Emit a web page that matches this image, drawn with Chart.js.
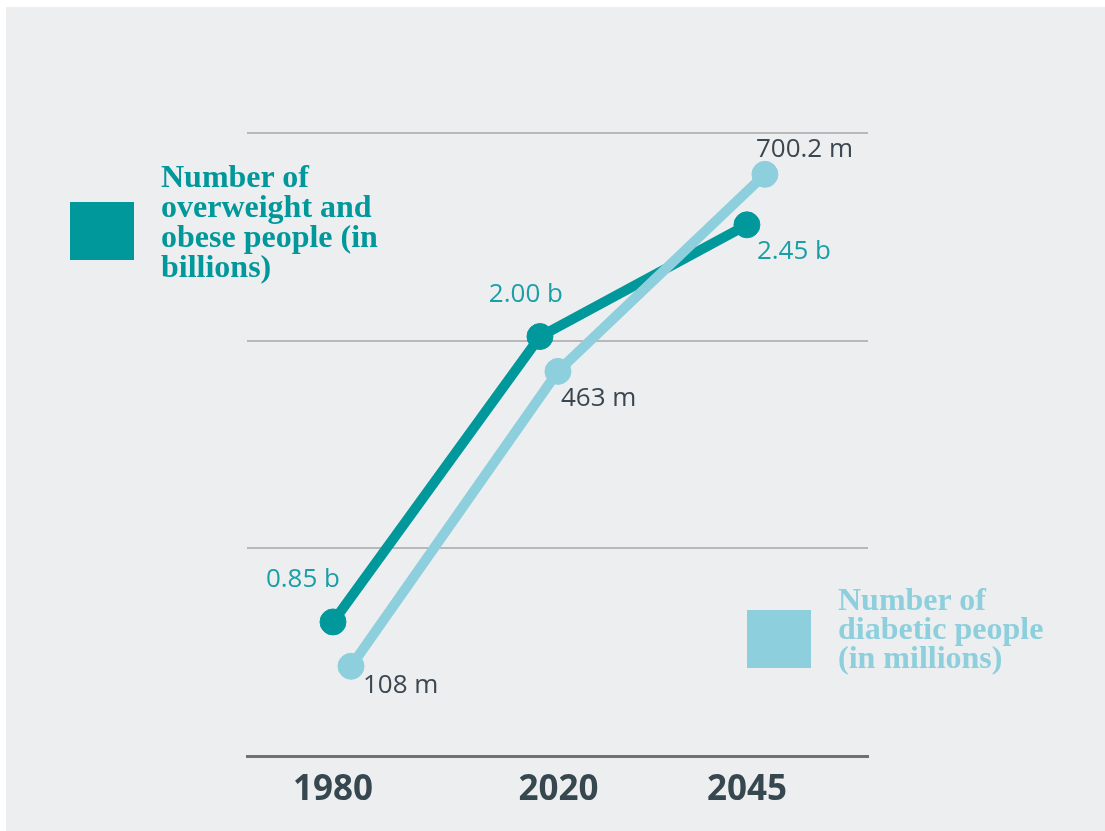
<!DOCTYPE html>
<html>
<head>
<meta charset="utf-8">
<script src="https://cdn.jsdelivr.net/npm/chart.js@4/dist/chart.umd.min.js"></script>
<style>
  html, body { margin: 0; padding: 0; background: #ffffff; }
  #wrap { position: relative; width: 1105px; height: 831px; overflow: hidden; }
  #bg { position: absolute; left: 6px; top: 7px; right: 0; bottom: 0; background: #edeef0; }
  #c { position: absolute; left: 0; top: 0; }
  .leg { position: absolute; font-family: "Liberation Serif", "DejaVu Serif", serif; font-weight: 700; font-size: 32px; white-space: nowrap; }
  .sw { position: absolute; width: 64px; height: 58px; }
</style>
</head>
<body>
<div id="wrap">
  <div id="bg"></div>
  <canvas id="c" width="1105" height="831"></canvas>
  <div class="sw" style="left:70px; top:202px; background:#00989b;"></div>
  <div class="leg" id="leg1" style="left:161px; top:161px; line-height:30px; color:#00989b;"></div>
  <div class="sw" style="left:747px; top:610px; background:#8dcfdc;"></div>
  <div class="leg" id="leg2" style="left:838px; top:585px; line-height:29px; color:#8dcfdc;"></div>
</div>
<script>
// ---- data ----
const categories = ['1980', '2020', '2045'];
const overweightBillions = [0.85, 2.00, 2.45];
const diabeticMillions = [108, 463, 700.2];
const overweightLabels = ['0.85 b', '2.00 b', '2.45 b'];
const diabeticLabels = ['108 m', '463 m', '700.2 m'];
const overweightName = ['Number of', 'overweight and', 'obese people (in', 'billions)'];
const diabeticName = ['Number of', 'diabetic people', '(in millions)'];

// ---- styles ----
const DARK = '#00989b';
const LIGHT = '#8dcfdc';
const LABEL_TEAL = '#1a9fa6';
const LABEL_GREY = '#3b4650';
const LIGHT_SHIFT = 0.087;
const TICK_SHIFT = [0, 0.09, 0];

document.getElementById('leg1').innerHTML = overweightName.join('<br>');
document.getElementById('leg2').innerHTML = diabeticName.join('<br>');

// label placement relative to the point: [dx, dy, align]
const darkLabelPos = [[7, -42, 'right'], [23, -42, 'right'], [10, 27, 'left']];
const lightLabelPos = [[12, 19, 'left'], [3, 27, 'left'], [-9, -25, 'left']];

const labelPlugin = {
  id: 'pointLabels',
  afterDatasetsDraw(chart) {
    const ctx = chart.ctx;
    ctx.save();
    ctx.font = '400 26px "Open Sans"';
    ctx.textBaseline = 'middle';
    const sets = [
      { idx: 0, texts: overweightLabels, pos: darkLabelPos, color: LABEL_TEAL },
      { idx: 1, texts: diabeticLabels, pos: lightLabelPos, color: LABEL_GREY }
    ];
    sets.forEach(s => {
      const meta = chart.getDatasetMeta(s.idx);
      meta.data.forEach((pt, i) => {
        const p = s.pos[i];
        ctx.fillStyle = s.color;
        ctx.textAlign = p[2];
        ctx.fillText(s.texts[i], pt.x + p[0], pt.y + p[1]);
      });
    });
    ctx.restore();
  }
};

Chart.defaults.font.family = '"Open Sans", sans-serif';

new Chart(document.getElementById('c'), {
  type: 'line',
  data: {
    datasets: [
      {
        label: overweightName.join(' '),
        data: categories.map((c, i) => ({ x: i, y: overweightBillions[i] })),
        yAxisID: 'yB',
        borderColor: DARK,
        backgroundColor: DARK,
        borderWidth: 10,
        pointRadius: 13,
        pointBorderWidth: 1,
        pointBackgroundColor: DARK,
        pointBorderColor: DARK,
        order: 1,
        clip: false
      },
      {
        label: diabeticName.join(' '),
        data: categories.map((c, i) => ({ x: i + LIGHT_SHIFT, y: diabeticMillions[i] })),
        yAxisID: 'yM',
        borderColor: LIGHT,
        backgroundColor: LIGHT,
        borderWidth: 10,
        pointRadius: 13,
        pointBorderWidth: 1,
        pointBackgroundColor: LIGHT,
        pointBorderColor: LIGHT,
        order: 0,
        clip: false
      }
    ]
  },
  options: {
    responsive: false,
    devicePixelRatio: 1,
    animation: false,
    layout: { padding: { left: 247, right: 237, top: 133, bottom: 0 } },
    plugins: { legend: { display: false }, tooltip: { enabled: false } },
    scales: {
      x: {
        type: 'linear',
        min: -0.4155,
        max: 2.585,
        afterBuildTicks: s => { s.ticks = categories.map((c, i) => ({ value: i + TICK_SHIFT[i] })); },
        afterFit: s => { s.height = 75; },
        ticks: {
          callback: (v, i) => categories[i],
          font: { size: 35, weight: '700', family: '"Open Sans"' },
          color: '#37474f',
          padding: 13,
          autoSkip: false,
          maxRotation: 0
        },
        grid: { display: false, drawTicks: false },
        border: { display: true, color: '#707070', width: 3 }
      },
      yB: {
        position: 'left',
        display: false,
        min: 0.31,
        max: 2.82
      },
      yM: {
        position: 'left',
        min: 0,
        max: 750,
        afterFit: s => { s.width = 0; },
        ticks: { display: false, stepSize: 250 },
        grid: { color: '#b8b8bb', lineWidth: 2, drawTicks: false },
        border: { display: false }
      }
    }
  },
  plugins: [labelPlugin]
});
</script>
</body>
</html>
